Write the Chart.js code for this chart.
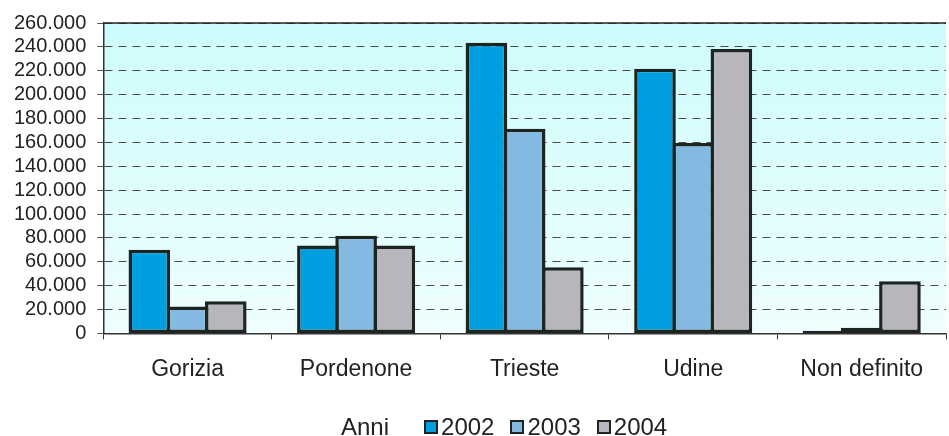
<!DOCTYPE html>
<html lang="it">
<head>
<meta charset="utf-8">
<script src="https://cdn.jsdelivr.net/npm/chart.js@4/dist/chart.umd.min.js"></script>
<style>
  html, body { margin: 0; padding: 0; background: #fff; }
  #wrap { position: relative; width: 949px; height: 436px; }
  #legend {
    position: absolute; left: 341px; top: 413px;
    display: flex; align-items: center;
    font: 24px "Liberation Sans", Arial, sans-serif; color: #222;
  }
  #legend .title { margin-right: 35px; }
  #legend .item { display: flex; align-items: center; margin-right: 16px; }
  #legend .box { width: 10px; height: 10px; border: 2.5px solid #1e2520; margin-right: 3px; }
</style>
</head>
<body>
<div id="wrap">
  <canvas id="chart" width="949" height="436"></canvas>
  <div id="legend"></div>
</div>
<script>
// Province del Friuli Venezia Giulia
const categorie = ['Gorizia', 'Pordenone', 'Trieste', 'Udine', 'Non definito'];
const anni = ['2002', '2003', '2004'];
const valori2002 = [70100, 73600, 243400, 221700, 2300];
const valori2003 = [22500, 81700, 171500, 159500, 4800];
const valori2004 = [27000, 73600, 55500, 238300, 43600];
const coloriAnni = ['#00a0e0', '#84bae2', '#b6b6bc'];

// 260000 -> "260.000"
function formatMigliaia(v) {
  return String(v).replace(/\B(?=(\d{3})+(?!\d))/g, '.');
}

const sfondoPlot = {
  id: 'sfondoPlot',
  beforeDraw(chart) {
    const { ctx, chartArea: a } = chart;
    const g = ctx.createLinearGradient(0, a.top, 0, a.bottom);
    g.addColorStop(0, '#cdfcfc');
    g.addColorStop(1, '#effefe');
    ctx.save();
    ctx.fillStyle = g;
    ctx.fillRect(a.left, a.top, a.right - a.left, a.bottom - a.top);
    ctx.restore();
  },
  afterDatasetsDraw(chart) {
    // linea continua sul bordo superiore
    const { ctx, chartArea: a } = chart;
    ctx.save();
    ctx.strokeStyle = '#222';
    ctx.lineWidth = 1.5;
    ctx.beginPath();
    ctx.moveTo(a.left, a.top);
    ctx.lineTo(a.right, a.top);
    ctx.stroke();
    ctx.restore();
  }
};

const serie = [valori2002, valori2003, valori2004];

const chart = new Chart(document.getElementById('chart'), {
  type: 'bar',
  data: {
    labels: categorie,
    datasets: serie.map((dati, i) => ({
      label: anni[i],
      data: dati,
      backgroundColor: coloriAnni[i],
      borderColor: '#1e2520',
      borderWidth: 3.5,
      borderSkipped: false,
      categoryPercentage: 0.68,
      barPercentage: 1.09
    }))
  },
  options: {
    responsive: false,
    animation: false,
    layout: { padding: { left: 3, top: 13, right: 3, bottom: 37 } },
    plugins: { legend: { display: false }, tooltip: { enabled: false } },
    scales: {
      x: {
        grid: {
          drawOnChartArea: false, drawTicks: true, tickLength: 6,
          tickColor: '#333', offset: true
        },
        border: { display: true, color: '#333', width: 1.5 },
        ticks: {
          color: '#222', padding: 16,
          font: { family: '"Liberation Sans", Arial, sans-serif', size: 23 }
        }
      },
      y: {
        min: 0, max: 260000,
        grid: {
          color: '#4a4a4a', lineWidth: 1, tickLength: 6,
          tickColor: '#555', tickBorderDash: [],
          drawTicks: true
        },
        border: { display: true, color: '#333', width: 1.5, dash: [8, 6] },
        ticks: {
          stepSize: 20000, autoSkip: false, color: '#222', padding: 11,
          font: { family: '"Liberation Sans", Arial, sans-serif', size: 20 },
          callback: v => formatMigliaia(v)
        }
      }
    }
  },
  plugins: [sfondoPlot]
});

// legenda HTML con titolo "Anni"
const legenda = document.getElementById('legend');
legenda.innerHTML = '<span class="title">Anni</span>' +
  chart.data.datasets.map(d =>
    '<span class="item"><span class="box" style="background:' + d.backgroundColor +
    '"></span>' + d.label + '</span>').join('');
</script>
</body>
</html>
